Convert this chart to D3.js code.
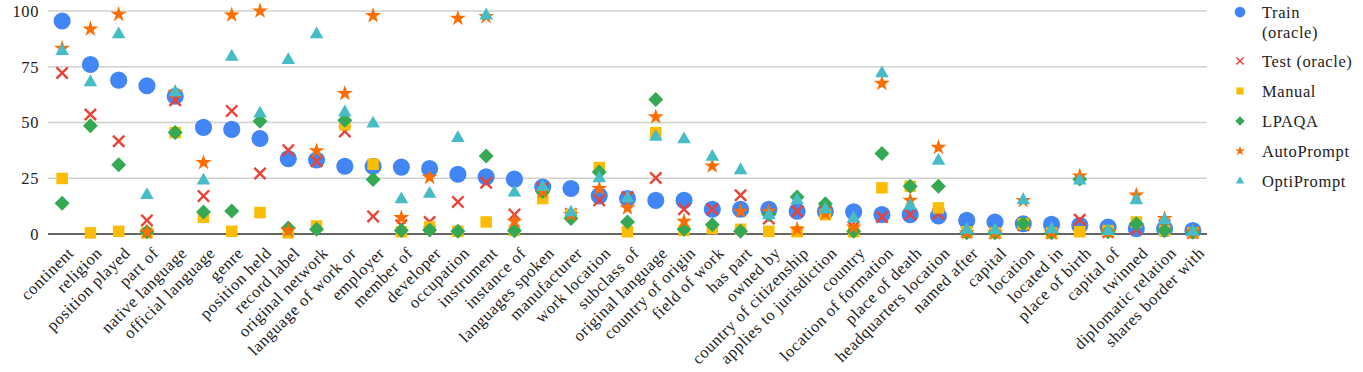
<!DOCTYPE html>
<html><head><meta charset="utf-8">
<script src="https://cdn.jsdelivr.net/npm/d3@7"></script>
<style>
html,body{margin:0;padding:0;background:#fff;}
svg{display:block;font-family:"Liberation Serif","DejaVu Serif",serif;}
</style></head>
<body><svg id="c" width="1363" height="372"></svg>
<script>
const categories = ["continent","religion","position played","part of","native language","official language","genre","position held","record label","original network","language of work or","employer","member of","developer","occupation","instrument","instance of","languages spoken","manufacturer","work location","subclass of","original language","country of origin","field of work","has part","owned by","country of citizenship","applies to jurisdiction","country","location of formation","place of death","headquarters location","named after","capital","location","located in","place of birth","capital of","twinned","diplomatic relation","shares border with"];

const train = [95.5,76,69,66.5,61.8,47.8,46.9,42.8,33.8,33.2,30.4,30.4,30,29.3,26.8,25.6,24.6,21.1,20.4,17.1,15.9,15.1,15.1,11.1,11.1,11.1,10.2,10.1,9.9,8.7,8.7,8.1,6.1,5.4,4.6,4.3,3.9,3.1,2.4,2.4,1.6];
const testOracle = [72.2,53.6,41.6,6.1,60,17,55.2,27.1,37.6,32.6,46,7.9,3.9,5.4,14.4,23,8.7,20.5,9,15.1,16.6,25.1,11.1,11.1,17.4,6.9,10.2,10,3,7.6,8.7,9.1,1,0.5,4,0.5,6.4,1,2.1,3.9,0.5];
const manual = [24.9,0.5,1.2,0.5,45.5,7.5,1.2,9.6,0.5,3.6,49,31.3,1,3.1,1.2,5.4,1.6,15.9,8.7,29.8,1,45.4,1.6,2.4,2.1,1.2,1,8.7,1,20.7,21.4,11.7,1,0.5,4.5,0.5,1,1.5,5.4,1.5,0.5];
const lpaqa = [13.8,48.5,31.1,1,45.5,9.9,10.3,50.6,2.7,2.1,51,24.4,1.6,1.8,1.2,35,1.5,19,6.9,27.8,5.4,60.3,2.1,4.2,1.2,8.7,16.6,13.6,1.2,36.1,21.4,21.4,0.5,0.5,4.6,0.5,24.6,1,4.6,1.6,0.8];
const autoPrompt = [83.2,91.9,98.5,0.9,63.5,32,98.2,100,1.6,37.3,63,97.9,7.3,25.4,96.7,97.5,5.7,19,8.7,20.4,11.7,52.5,5.7,30.5,10.2,10.2,2.1,9.1,3.1,67.5,15.1,38.8,0.5,0.5,15,0.5,26,0.8,17.4,6.9,0.8];
const optiPrompt = [82,68,89.5,17.4,63.5,24,79.5,54,78,89.5,54.5,49.5,15.5,18,43,98,18.6,21,9.6,25,16,43.6,42.4,34.6,28.6,8.4,15.1,11,6.9,72,12.6,32.8,1.9,1.6,15.1,2.1,24,1.3,15.1,6.1,1];
const yTicks = [0,25,50,75,100];

const seriesNames = ["Train (oracle)","Test (oracle)","Manual","LPAQA","AutoPrompt","OptiPrompt"];
const seriesValues = [train,testOracle,manual,lpaqa,autoPrompt,optiPrompt];
const colors = ["#4285F4","#EA4335","#FBBC04","#34A853","#FF6D01","#46BDC6"];

const FONT = "Liberation Serif";
const FS = 16.5, LS = "0.6px";

const svg = d3.select("#c");
const x = d3.scalePoint().domain(categories).range([48,1207]).padding(0.5);
const y = d3.scaleLinear().domain([0,100]).range([234,11]);

// grid
svg.append("g").selectAll("line").data(yTicks.filter(d=>d>0)).join("line")
  .attr("x1",48).attr("x2",1207).attr("y1",d=>y(d)).attr("y2",d=>y(d))
  .attr("stroke","#d0d0d0").attr("stroke-width",1.5);

// y axis labels
const yAxis = d3.axisLeft(y).tickValues(yTicks).tickSize(0).tickPadding(9);
const gy = svg.append("g").attr("transform","translate(48,0)").call(yAxis);
gy.attr("font-family",FONT);
gy.select(".domain").remove();
gy.selectAll("text").attr("font-family",FONT).attr("font-size",FS).attr("letter-spacing",LS).attr("fill","#222");

// x axis
const xAxis = d3.axisBottom(x).tickSize(0).tickPadding(0);
const gx = svg.append("g").attr("transform","translate(0,234)").call(xAxis);
gx.attr("font-family",FONT);
gx.select(".domain").attr("stroke","#333").attr("stroke-width",1.5).attr("d","M48,0H1207");
gx.selectAll("text")
  .attr("font-family",FONT).attr("font-size",FS).attr("letter-spacing",LS).attr("fill","#222")
  .attr("text-anchor","end").attr("dy","0.35em")
  .attr("transform","translate(8,16) rotate(-45)")
  .attr("y",0).attr("x",0);

function xShape(s){ // thin x mark
  const L=s, w=s*0.3;
  const p = d3.path();
  const pts=[[-w/2,-L],[w/2,-L],[w/2,-w/2],[L,-w/2],[L,w/2],[w/2,w/2],[w/2,L],[-w/2,L],[-w/2,w/2],[-L,w/2],[-L,-w/2],[-w/2,-w/2]];
  const a=Math.PI/4, c=Math.cos(a), sn=Math.sin(a);
  pts.forEach((q,i)=>{const X=q[0]*c-q[1]*sn, Y=q[0]*sn+q[1]*c; i?p.lineTo(X,Y):p.moveTo(X,Y);});
  p.closePath();
  return p.toString();
}
function shapePath(i, k){
  switch(i){
    case 0: return d3.symbol(d3.symbolCircle, 230*k*k)();
    case 1: return xShape(8*k);
    case 2: return d3.symbol(d3.symbolSquare, 132*k*k)();
    case 3: return d3.symbol(d3.symbolSquare, 112*k*k)();
    case 4: return d3.symbol(d3.symbolStar, 80*k*k)();
    case 5: return d3.symbol(d3.symbolTriangle, 80*k*k)();
  }
}

seriesValues.forEach((vals,i)=>{
  svg.append("g").selectAll("path").data(vals).join("path")
    .attr("d", shapePath(i,1))
    .attr("fill", colors[i])
    .attr("transform",(d,j)=>`translate(${x(categories[j])},${y(d)})${i===3?" rotate(45)":""}`);
});

// legend
const lg = svg.append("g").attr("font-family",FONT);
const ly = [12,61,91,121,151,181];
seriesNames.forEach((n,i)=>{
  lg.append("path").attr("d",shapePath(i,0.62)).attr("fill",colors[i])
    .attr("transform",`translate(1240,${ly[i]})${i===3?" rotate(45)":""}`);
  const t = lg.append("text").attr("x",1262).attr("y",ly[i]).attr("dy","0.35em")
    .attr("font-family",FONT).attr("font-size",FS).attr("letter-spacing",LS).attr("fill","#222");
  if(i===0){
    t.append("tspan").attr("x",1262).text("Train");
    t.append("tspan").attr("x",1262).attr("dy","1.25em").text("(oracle)");
  } else t.text(n);
});
</script></body></html>
